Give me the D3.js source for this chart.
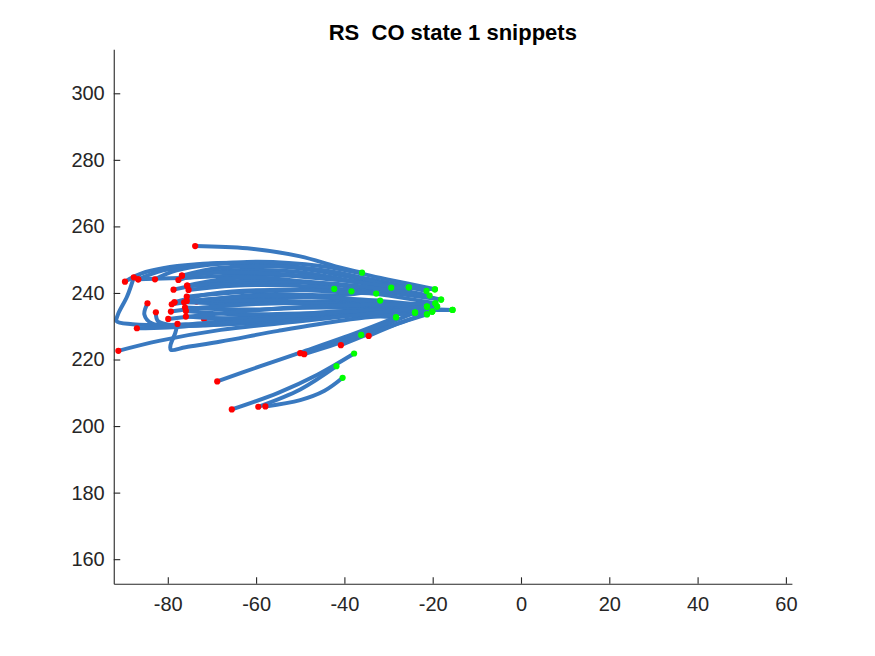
<!DOCTYPE html>
<html>
<head>
<meta charset="utf-8">
<script src="https://cdn.jsdelivr.net/npm/d3@7"></script>
<style>
  body { margin: 0; background: #fff; }
  text { font-family: "Liberation Sans", Arial, Helvetica, sans-serif; }
</style>
</head>
<body>
<div id="chart-container"></div>
<script>
// tick values
const xTicks = [-80, -60, -40, -20, 0, 20, 40, 60];
const yTicks = [160, 180, 200, 220, 240, 260, 280, 300];

// snippets whose start marker ends up under other lines
const hiddenSnippets = [
  [[-73.5, 237.4], [-58, 239.6], [-40, 239.4], [-29.4, 241.6]],
  [[-71.8, 232.2], [-56, 232.8], [-38, 234.2], [-21.3, 233.6]]
];

// main bundle, starting on the left
const bundleSnippets = [
  [[-73.8, 254.1], [-62, 253.4], [-50, 251], [-42, 248], [-36, 246.1]],
  [[-89.7, 243.4], [-85, 246.3], [-72, 248.8], [-55, 248.5], [-38, 245], [-21.4, 240.6]],
  [[-87.7, 244.7], [-89.2, 239], [-91.3, 233.5], [-91.6, 231.5], [-88, 230.6], [-75, 230.3], [-55, 231.5], [-38, 233.5], [-24, 234.1]],
  [[-86.7, 244.1], [-81, 246.8], [-66, 249], [-48, 247], [-32, 243], [-25.4, 241.7]],
  [[-86.7, 244.1], [-75, 244.6], [-58, 245.5], [-42, 244], [-25.4, 241.7]],
  [[-82.9, 244.1], [-78, 246.8], [-62, 249.3], [-45, 248], [-30, 244], [-19.5, 241.1]],
  [[-77.6, 243.9], [-70, 246.3], [-52, 246.5], [-36, 243], [-20.7, 239.2]],
  [[-76.8, 245.2], [-68, 247.6], [-50, 247.6], [-38, 245.2], [-29.4, 241.6]],
  [[-76.8, 245.2], [-66, 246.2], [-48, 245], [-30, 242], [-19.5, 241.1]],
  [[-78.7, 241.0], [-70, 243], [-50, 243.5], [-32, 240.5], [-18.1, 238.0]],
  [[-75.6, 242.2], [-65, 244.5], [-52, 243.8], [-42.3, 241.2]],
  [[-75.6, 242.2], [-62, 242.8], [-45, 243], [-28, 240.5], [-18.1, 238]],
  [[-75.3, 240.9], [-65, 242.2], [-46, 241.8], [-30, 239.2], [-19.4, 236.9]],
  [[-75.7, 238.9], [-64, 240.2], [-48, 241], [-38.4, 240.5]],
  [[-75.7, 237.6], [-60, 238.6], [-40, 238.3], [-19, 235.9]],
  [[-76.3, 237.2], [-64, 236.8], [-46, 237.4], [-31.9, 237.7]],
  [[-78.5, 237.2], [-70, 239.8], [-52, 241], [-40, 240.2], [-32.8, 239.8]],
  [[-78.5, 237.2], [-62, 237.8], [-42, 237], [-21.3, 235.9]],
  [[-79.1, 236.6], [-70, 238.2], [-50, 239.3], [-32, 237.2], [-21.3, 235.9]],
  [[-84.6, 236.9], [-85.3, 233.5], [-83.5, 230.8], [-76, 230.6], [-58, 232.8], [-36, 234.8], [-20.1, 234.4]],
  [[-76.1, 235.6], [-64, 235], [-44, 235.6], [-15.5, 234.9]],
  [[-75.9, 234.6], [-64, 233.6], [-44, 234], [-21.3, 233.6]],
  [[-79.3, 234.4], [-72, 235.6], [-52, 237], [-32, 236.2], [-19, 235.9]],
  [[-82.7, 234.2], [-82.2, 231.5], [-78, 230.2], [-62, 231], [-42, 233.2], [-28.3, 232.7]],
  [[-75.9, 232.9], [-64, 232.3], [-46, 233.6], [-20.1, 234.4]],
  [[-79.9, 232.2], [-70, 233.6], [-52, 235.6], [-36, 236.4], [-19.4, 236.9]],
  [[-77.8, 230.7], [-78.3, 228], [-79.4, 224.2], [-79.3, 222.9], [-76, 223.7], [-68, 225.4], [-55, 228.6], [-40, 231.8], [-24, 234.1]],
  [[-87, 229.4], [-80, 229.6], [-62, 231.6], [-40, 234.4], [-15.5, 234.9]],
  [[-91.2, 222.6], [-82, 225.6], [-68, 228.9], [-50, 231.5], [-34, 233.8], [-21.3, 235.9]]
];

// shorter snippets underneath the bundle
const lowerSnippets = [
  [[-68.8, 213.4], [-59, 218], [-50, 222.1], [-40, 226.7], [-28.3, 232.7]],
  [[-65.5, 205], [-55, 210], [-46, 215.5], [-37.8, 221.8]],
  [[-59.5, 205.8], [-50, 211], [-41.8, 218]],
  [[-57.9, 205.9], [-50, 207.8], [-44.5, 210.6], [-40.4, 214.5]],
  [[-50, 221.9], [-40, 225.8], [-31, 230.4], [-24, 234.1]],
  [[-49.1, 221.6], [-42, 224.6], [-36.2, 227.4]],
  [[-40.8, 224.3], [-31, 229.4], [-21.3, 233.6]],
  [[-34.5, 227.1], [-27, 231.2], [-20.1, 234.4]]
];

const main = function() {
  const width = 875, height = 656;
  const svg = d3.select("#chart-container")
    .append("svg")
    .attr("width", width)
    .attr("height", height)
    .style("display", "block");

  const x = d3.scaleLinear().domain([-92.24, 61.36]).range([113.75, 791.9]);
  const y = d3.scaleLinear().domain([152.6, 313.25]).range([583.8, 49.2]);

  const line = d3.line()
    .x(d => x(d[0]))
    .y(d => y(d[1]))
    .curve(d3.curveCatmullRom.alpha(0.5));

  const blue = "#3979c0";

  const drawLines = function(g, list) {
    g.selectAll(null)
      .data(list)
      .enter()
      .append("path")
      .attr("d", line)
      .attr("fill", "none")
      .attr("stroke", blue)
      .attr("stroke-width", 4)
      .attr("stroke-linecap", "round")
      .attr("stroke-linejoin", "round");
  };

  const drawDots = function(g, list) {
    g.selectAll(null)
      .data(list)
      .enter()
      .append("circle")
      .attr("cx", s => x(s[0][0]))
      .attr("cy", s => y(s[0][1]))
      .attr("r", 3.1)
      .attr("fill", "#ff0000");
    g.selectAll(null)
      .data(list)
      .enter()
      .append("circle")
      .attr("cx", s => x(s[s.length - 1][0]))
      .attr("cy", s => y(s[s.length - 1][1]))
      .attr("r", 3.1)
      .attr("fill", "#00ff00");
  };

  const plot = svg.append("g");
  const hidden = plot.append("g");
  drawLines(hidden, hiddenSnippets);
  drawDots(hidden, hiddenSnippets);
  const allSnippets = bundleSnippets.concat(lowerSnippets);
  drawLines(plot.append("g"), allSnippets);
  drawDots(plot.append("g"), allSnippets);

  // axes, matlab style: ticks inside, no box
  const axisColor = "#262626";
  const fmt = d => String(d);
  const xAxis = svg.append("g")
    .attr("transform", "translate(0," + 583.8 + ")")
    .call(d3.axisBottom(x).tickValues(xTicks).tickFormat(fmt).tickSizeInner(-6.5).tickSizeOuter(0).tickPadding(13));
  const yAxis = svg.append("g")
    .attr("transform", "translate(" + 113.75 + ",0)")
    .call(d3.axisLeft(y).tickValues(yTicks).tickFormat(fmt).tickSizeInner(-6.5).tickSizeOuter(0).tickPadding(9));

  [xAxis, yAxis].forEach(a => {
    a.select(".domain").attr("stroke", axisColor).attr("stroke-width", 1.1);
    a.selectAll(".tick line").attr("stroke", axisColor).attr("stroke-width", 1.1);
    a.selectAll(".tick text")
      .attr("fill", axisColor)
      .style("font-size", "20px")
      .style("font-family", "'Liberation Sans', Arial, Helvetica, sans-serif");
  });

  svg.append("text")
    .attr("x", 452.8)
    .attr("y", 40)
    .attr("text-anchor", "middle")
    .style("font-size", "22px")
    .style("font-weight", "bold")
    .style("white-space", "pre")
    .attr("fill", "#000")
    .text("RS  CO state 1 snippets");
};

window.onload = main;
</script>
</body>
</html>
